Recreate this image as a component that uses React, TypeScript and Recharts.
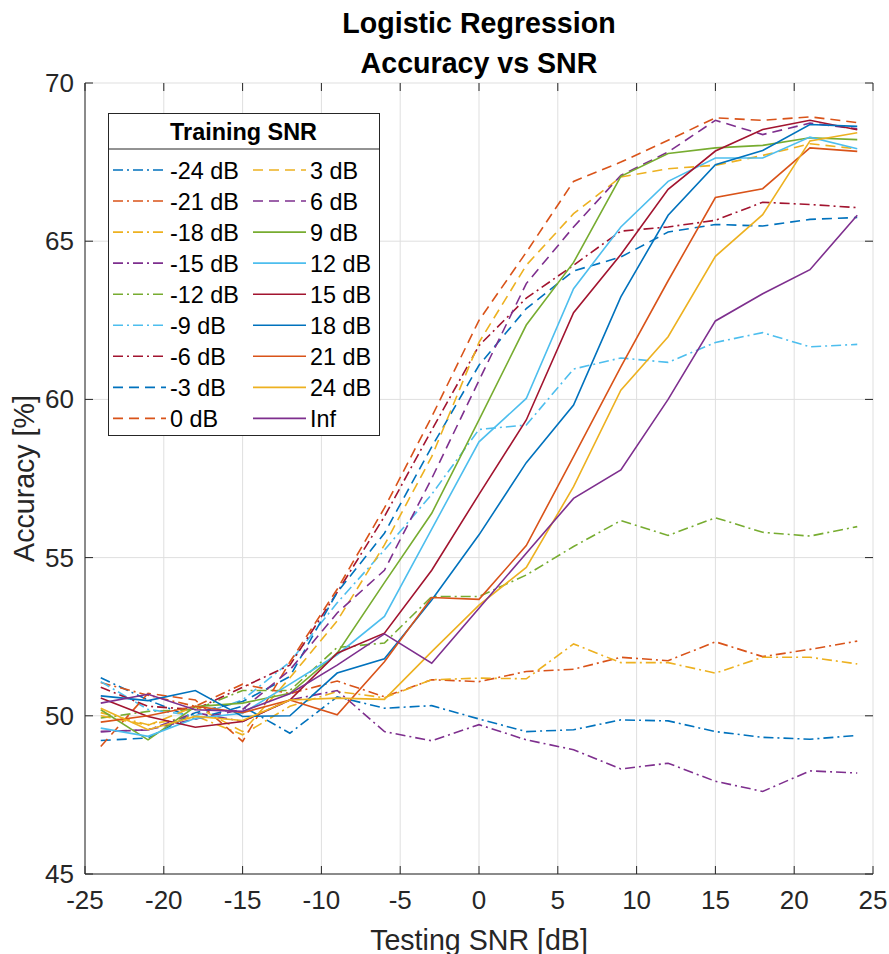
import React from 'react';
import { LineChart, Line, XAxis, YAxis, CartesianGrid } from 'recharts';

const testingSnr = [-24, -21, -18, -15, -12, -9, -6, -3, 0, 3, 6, 9, 12, 15, 18, 21, 24];
const xTicks = [-25, -20, -15, -10, -5, 0, 5, 10, 15, 20, 25];
const yTicks = [45, 50, 55, 60, 65, 70];

const trainingLabels = ['-24 dB', '-21 dB', '-18 dB', '-15 dB', '-12 dB', '-9 dB', '-6 dB', '-3 dB', '0 dB',
  '3 dB', '6 dB', '9 dB', '12 dB', '15 dB', '18 dB', '21 dB', '24 dB', 'Inf'];

const accTrainM24 = [51.2, 50.5, 49.9, 50.3, 49.45, 50.6, 50.24, 50.32, 49.9, 49.5, 49.56, 49.87, 49.84, 49.5, 49.32, 49.26, 49.38];
const accTrainM21 = [51.05, 50.65, 50.3, 51.0, 50.7, 51.1, 50.6, 51.14, 51.08, 51.4, 51.47, 51.85, 51.74, 52.34, 51.87, 52.1, 52.36];
const accTrainM18 = [50.1, 49.72, 50.0, 49.4, 50.3, 50.77, 50.57, 51.14, 51.19, 51.17, 52.27, 51.68, 51.68, 51.35, 51.85, 51.85, 51.64];
const accTrainM15 = [49.5, 49.55, 50.1, 49.82, 50.5, 50.8, 49.5, 49.21, 49.72, 49.24, 48.93, 48.32, 48.5, 47.93, 47.61, 48.26, 48.19];
const accTrainM12 = [49.93, 50.14, 50.2, 50.8, 50.8, 52.16, 52.3, 53.77, 53.77, 54.45, 55.35, 56.17, 55.7, 56.26, 55.8, 55.68, 55.98];
const accTrainM9 = [51.08, 50.2, 50.0, 50.5, 51.7, 53.57, 55.24, 57.0, 59.05, 59.19, 60.96, 61.31, 61.17, 61.8, 62.11, 61.66, 61.74];
const accTrainM6 = [50.9, 50.3, 50.2, 50.9, 51.6, 53.9, 56.3, 59.03, 61.7, 63.2, 64.24, 65.32, 65.45, 65.66, 66.23, 66.16, 66.06];
const accTrainM3 = [49.22, 49.3, 50.1, 50.45, 51.24, 53.9, 55.77, 58.5, 61.08, 62.87, 64.06, 64.5, 65.29, 65.53, 65.48, 65.69, 65.75];
const accTrain0 = [49.03, 50.71, 50.5, 49.19, 51.7, 54.0, 56.57, 59.45, 62.5, 64.65, 66.89, 67.5, 68.19, 68.9, 68.82, 68.93, 68.75];
const accTrain3 = [50.0, 49.7, 50.3, 49.5, 51.2, 53.0, 55.4, 58.19, 61.8, 64.24, 65.87, 67.03, 67.29, 67.4, 67.71, 68.08, 67.92];
const accTrain6 = [49.5, 49.56, 49.9, 50.2, 51.45, 53.25, 54.6, 57.5, 60.6, 63.66, 65.45, 67.08, 67.82, 68.82, 68.37, 68.73, 68.55];
const accTrain9 = [50.19, 49.24, 50.29, 50.4, 50.71, 51.98, 54.21, 56.4, 59.35, 62.35, 64.33, 67.05, 67.77, 67.95, 68.03, 68.27, 68.21];
const accTrain12 = [49.61, 49.35, 49.92, 50.08, 51.0, 51.93, 53.14, 55.9, 58.66, 60.03, 63.5, 65.45, 66.89, 67.63, 67.63, 68.29, 67.92];
const accTrain15 = [50.56, 49.98, 49.64, 49.82, 50.5, 51.98, 52.61, 54.6, 57.0, 59.35, 62.74, 64.58, 66.64, 67.85, 68.53, 68.82, 68.52];
const accTrain18 = [50.63, 50.48, 50.8, 49.98, 50.0, 51.35, 51.8, 53.66, 55.72, 58.0, 59.82, 63.24, 65.82, 67.42, 67.87, 68.69, 68.63];
const accTrain21 = [49.8, 50.0, 50.3, 50.1, 50.5, 50.03, 51.71, 53.74, 53.68, 55.38, 58.19, 61.03, 63.75, 66.38, 66.66, 67.95, 67.84];
const accTrain24 = [50.24, 49.56, 49.98, 49.85, 50.5, 50.56, 50.52, 52.03, 53.5, 54.69, 57.24, 60.29, 61.98, 64.52, 65.84, 68.17, 68.43];
const accTrainInf = [50.4, 50.68, 50.19, 50.14, 50.7, 51.6, 52.59, 51.66, 53.4, 55.14, 56.87, 57.77, 60.0, 62.48, 63.34, 64.1, 65.82];

const seriesValues = [accTrainM24, accTrainM21, accTrainM18, accTrainM15, accTrainM12, accTrainM9, accTrainM6,
  accTrainM3, accTrain0, accTrain3, accTrain6, accTrain9, accTrain12, accTrain15, accTrain18, accTrain21, accTrain24, accTrainInf];

const palette = ['#0072BD', '#D95319', '#EDB120', '#7E2F8E', '#77AC30', '#4DBEEE', '#A2142F'];
const DASHDOT = '10 4 2 4';
const DASHED = '10 6';
const lineStyleOf = (i: number) => (i < 7 ? DASHDOT : i < 11 ? DASHED : undefined);

const data = testingSnr.map((t, j) => {
  const row: Record<string, number> = { snr: t };
  seriesValues.forEach((vals, i) => { row['s' + i] = vals[j]; });
  return row;
});

const W = 889;
const H = 954;
const M_TOP = 83;
const X_AXIS_H = 80;
const Y_AXIS_W = 85;
const M_RIGHT = 16;
const PLOT_W = W - Y_AXIS_W - M_RIGHT;
const PLOT_H = H - M_TOP - X_AXIS_H;
const FONT = '"Liberation Sans", Arial, Helvetica, sans-serif';
const AX = '#262626';
const TICK_LEN = 8;

const XTick = (props: any) => {
  const { x, y, payload } = props;
  return (
    <g>
      <line x1={x} x2={x} y1={y} y2={y - TICK_LEN} stroke={AX} strokeWidth={1} />
      <line x1={x} x2={x} y1={y - PLOT_H} y2={y - PLOT_H + TICK_LEN} stroke={AX} strokeWidth={1} />
      <text x={x} y={y + 35} textAnchor="middle" fontSize={26} fontFamily={FONT} fill={AX}>{payload.value}</text>
    </g>
  );
};

const YTick = (props: any) => {
  const { x, y, payload } = props;
  return (
    <g>
      <line x1={x} x2={x + TICK_LEN} y1={y} y2={y} stroke={AX} strokeWidth={1} />
      <line x1={x + PLOT_W - TICK_LEN} x2={x + PLOT_W} y1={y} y2={y} stroke={AX} strokeWidth={1} />
      <text x={x - 11} y={y + 9} textAnchor="end" fontSize={26} fontFamily={FONT} fill={AX}>{payload.value}</text>
    </g>
  );
};

const LEG_X = 108;
const LEG_Y = 113;
const LEG_W = 271;
const LEG_H = 322;

const LegendBox = () => (
  <svg style={{ position: 'absolute', left: LEG_X, top: LEG_Y }} width={LEG_W + 2} height={LEG_H + 2}>
    <rect x={0.5} y={0.5} width={LEG_W} height={LEG_H} fill="#fff" stroke={AX} strokeWidth={1} />
    <line x1={0.5} x2={LEG_W + 0.5} y1={36} y2={36} stroke={AX} strokeWidth={1} />
    <text x={LEG_W / 2} y={27} textAnchor="middle" fontSize={23.4} fontWeight="bold" fontFamily={FONT} fill="#000">Training SNR</text>
    {trainingLabels.map((label, i) => {
      const col = i < 9 ? 0 : 1;
      const row = i % 9;
      const cy = 57 + row * 31.05;
      const lx = col === 0 ? 5 : 145;
      const dash = lineStyleOf(i);
      return (
        <g key={label}>
          <line x1={lx} x2={lx + 53} y1={cy} y2={cy} stroke={palette[i % 7]} strokeWidth={1.6} strokeDasharray={dash} />
          <text x={lx + 57} y={cy + 8.5} fontSize={23.4} fontFamily={FONT} fill="#000">{label}</text>
        </g>
      );
    })}
  </svg>
);

const Labels = () => (
  <svg style={{ position: 'absolute', left: 0, top: 0, pointerEvents: 'none' }} width={W} height={H}>
    <text x={Y_AXIS_W + PLOT_W / 2} y={33} textAnchor="middle" fontSize={28.6} fontWeight="bold" fontFamily={FONT} fill="#000">Logistic Regression</text>
    <text x={Y_AXIS_W + PLOT_W / 2} y={73} textAnchor="middle" fontSize={28.6} fontWeight="bold" fontFamily={FONT} fill="#000">Accuracy vs SNR</text>
    <text x={Y_AXIS_W + PLOT_W / 2} y={950} textAnchor="middle" fontSize={28.6} fontFamily={FONT} fill={AX}>Testing SNR [dB]</text>
    <text x={34} y={M_TOP + PLOT_H / 2} textAnchor="middle" fontSize={28.6} fontFamily={FONT} fill={AX} transform={`rotate(-90 34 ${M_TOP + PLOT_H / 2})`}>Accuracy [%]</text>
  </svg>
);

export default function App() {
  return (
    <div style={{ position: 'absolute', left: 0, top: 0, width: W, height: H, background: '#fff' }}>
      <LineChart width={W} height={H} data={data} margin={{ top: M_TOP, right: M_RIGHT, bottom: 0, left: 0 }}>
        <CartesianGrid stroke="#dfdfdf" strokeWidth={1} />
        <XAxis dataKey="snr" type="number" domain={[-25, 25]} ticks={xTicks} height={X_AXIS_H}
          tickLine={false} tickSize={0} tickMargin={0} axisLine={{ stroke: AX }} tick={<XTick />} interval={0} />
        <XAxis xAxisId="top" orientation="top" dataKey="snr" type="number" domain={[-25, 25]} height={0}
          tick={false} tickLine={false} axisLine={{ stroke: AX }} />
        <YAxis type="number" domain={[45, 70]} ticks={yTicks} width={Y_AXIS_W}
          tickLine={false} tickSize={0} tickMargin={0} axisLine={{ stroke: AX }} tick={<YTick />} interval={0} />
        <YAxis yAxisId="right" orientation="right" type="number" domain={[45, 70]} width={0}
          tick={false} tickLine={false} axisLine={{ stroke: AX }} />
        {trainingLabels.map((label, i) => (
          <Line key={label} dataKey={'s' + i} name={label} stroke={palette[i % 7]} strokeWidth={1.6}
            strokeDasharray={lineStyleOf(i)} dot={false} activeDot={false} isAnimationActive={false} />
        ))}
      </LineChart>
      <LegendBox />
      <Labels />
    </div>
  );
}
